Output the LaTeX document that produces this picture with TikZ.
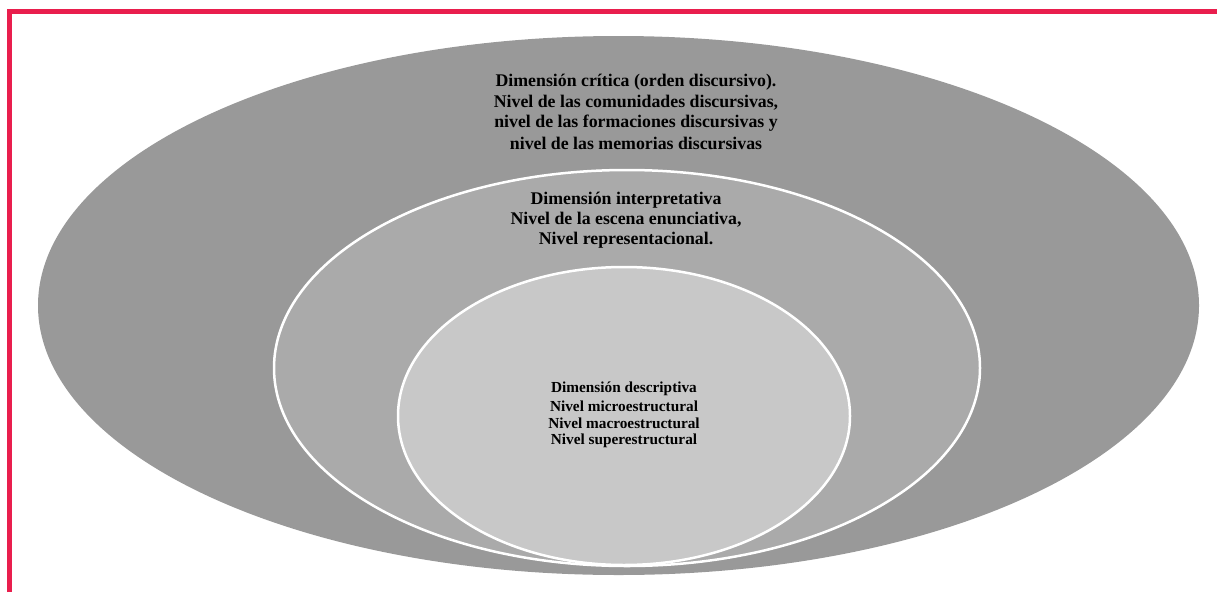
\documentclass[tikz,border=0pt]{standalone}
\usepackage{fontspec}
\setmainfont{Liberation Serif}
\usepackage{xcolor}
\definecolor{frame red}{RGB}{233,30,77}
\definecolor{outer gray}{RGB}{153,153,153}
\definecolor{middle gray}{RGB}{170,170,170}
\definecolor{inner gray}{RGB}{200,200,200}
\usepackage{tikz}
\tikzset{
	big text/.style = {
			text=black,
			inner sep = 0pt,
			font = \bfseries\fontsize{17.8}{20.5}\selectfont,
		},
	small text/.style = {
			text=black,
			inner sep = 0pt,
			font = \bfseries\fontsize{15.3}{17.3}\selectfont,
		}
}

\begin{document}
\begin{tikzpicture}[x=1pt,y=-1pt]
			      \useasboundingbox (0,0) rectangle (1217,592);
			      \draw[frame red, line width=5pt] (9.5,592) -- (9.5,11.5) -- (1217,11.5);
			      \fill[outer gray] (618.5,305.5) ellipse (580.5pt and 269.5pt);
			      \draw[fill=middle gray, draw=white, line width=2.5pt] (627,368) ellipse (353pt and 198pt);
			      \draw[fill=inner gray, draw=white, line width=2.5pt] (624,416) ellipse (226pt and 149pt);
			      \node[big text] at (636,82) (a1) {Dimensión crítica (orden discursivo).};
			      \node[big text] at (636,102.5) (a2) {Nivel de las comunidades discursivas,};
			      \node[big text] at (636,123) (a3) {nivel de las formaciones discursivas y};
			      \node[big text] at (636,143.5) (a4) {nivel de las memorias discursivas};
			      \node[big text] at (626,200) (b1) {Dimensión interpretativa};
			      \node[big text] at (626,220) (b2) {Nivel de la escena enunciativa,};
			      \node[big text] at (626,240) (b3) {Nivel representacional.};
			      \node[small text] at (624,389) (c1) {Dimensión descriptiva};
			      \node[small text] at (624,406) (c2) {Nivel microestructural};
			      \node[small text] at (624,423.5) (c3) {Nivel macroestructural};
			      \node[small text] at (624,441) (c4) {Nivel superestructural};
		      \end{tikzpicture}
\end{document}
